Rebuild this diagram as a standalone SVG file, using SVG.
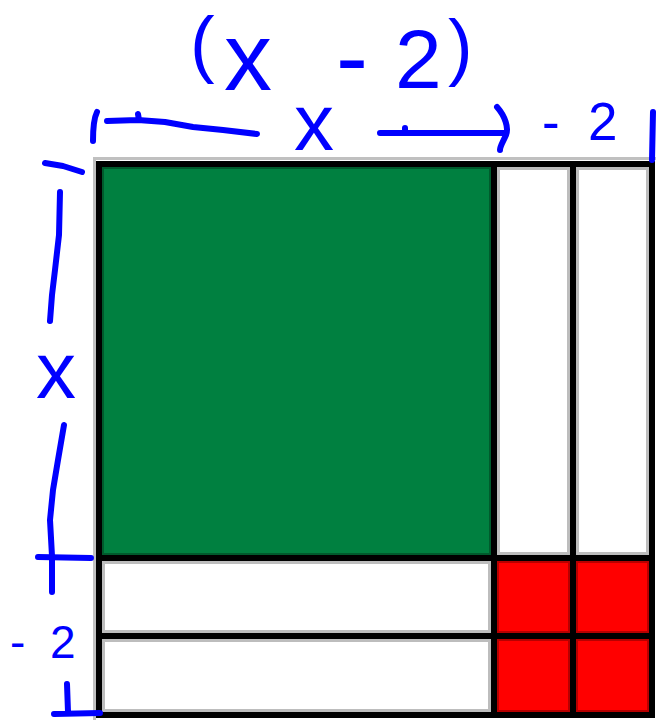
<svg xmlns="http://www.w3.org/2000/svg" width="656" height="720" viewBox="0 0 656 720">
<style>
.grid{stroke:#000;stroke-width:6;fill:none;stroke-linecap:square}
.halo{stroke:#c0c0c0;stroke-width:3;fill:none}
.green{fill:#008040}
.white{fill:#fff}
.red{fill:#ff0000}
.green-edge{fill:none;stroke:#005a2c;stroke-width:2}
.white-edge{fill:none;stroke:#bdbdbd;stroke-width:3}
.red-edge{fill:none;stroke:#b80000;stroke-width:2}
.ink{stroke:#0000ff;stroke-width:6;fill:none;stroke-linecap:round;stroke-linejoin:round}
.hw{fill:#0000ff;font-family:"Liberation Sans",Arial,sans-serif}
</style>
<rect width="656" height="720" fill="#fff"/>
<g id="tiles">
  <g id="x2-tile"><rect class="green" x="99" y="164" width="395" height="394"/><rect class="green-edge" x="103" y="168" width="387" height="386"/></g>
  <g id="x-tile-v1"><rect class="white" x="494" y="164" width="79" height="394"/><rect class="white-edge" x="498.5" y="168.5" width="70" height="385"/></g>
  <g id="x-tile-v2"><rect class="white" x="573" y="164" width="79" height="394"/><rect class="white-edge" x="577.5" y="168.5" width="70" height="385"/></g>
  <g id="x-tile-h1"><rect class="white" x="99" y="558" width="395" height="78"/><rect class="white-edge" x="103.5" y="562.5" width="386" height="69"/></g>
  <g id="x-tile-h2"><rect class="white" x="99" y="636" width="395" height="79"/><rect class="white-edge" x="103.5" y="640.5" width="386" height="70"/></g>
  <g id="unit-1"><rect class="red" x="494" y="558" width="79" height="78"/><rect class="red-edge" x="498" y="562" width="71" height="70"/></g>
  <g id="unit-2"><rect class="red" x="573" y="558" width="79" height="78"/><rect class="red-edge" x="577" y="562" width="71" height="70"/></g>
  <g id="unit-3"><rect class="red" x="494" y="636" width="79" height="79"/><rect class="red-edge" x="498" y="640" width="71" height="71"/></g>
  <g id="unit-4"><rect class="red" x="573" y="636" width="79" height="79"/><rect class="red-edge" x="577" y="640" width="71" height="71"/></g>
</g>
<g id="grid-lines">
  <path class="halo" d="M94.5,720 V158.5 H656"/>
  <path class="grid" d="M99,164 H652 V715 H99 Z M494,164 V715 M573,164 V715 M99,558 H652 M99,636 H652"/>
</g>
<g id="connectors">
  <path class="ink" d="M97,112 Q93,120 93,141"/>
  <path class="ink" d="M107,121 L138,120 L165,122 L193,127 L223,130 L257,134 M138,114 L139,120"/>
  <path class="ink" d="M380,133 L506,133 M405,128 L405,133"/>
  <path class="ink" d="M497,107 C505,116 509,128 506,135 C503,142 500,146 500,150"/>
  <path class="ink" d="M653,112 L652,160"/>
  <path class="ink" d="M45,163 L63,166 L82,172"/>
  <path class="ink" d="M60,192 L59,235 L55,270 L52,295 L50,321"/>
  <path class="ink" d="M64,425 L58,460 L53,490 L50,520 L52,556 L52,592"/>
  <path class="ink" d="M38,557 L91,558"/>
  <path class="ink" d="M67,684 L68,712 M54,714 L100,713"/>
</g>
<g id="labels">
  <text class="hw"><tspan x="190" y="69" font-size="74">(</tspan><tspan x="224" y="90" font-size="96">x</tspan><tspan x="300" y="90" font-size="74"> </tspan><tspan x="336" y="90" font-size="96">-</tspan><tspan x="395" y="88" font-size="84">2</tspan><tspan x="448" y="72" font-size="74">)</tspan></text>
  <text class="hw" x="294" y="150" font-size="80">x</text>
  <text class="hw" x="542 588" y="140" font-size="53">-2</text>
  <text class="hw" x="36" y="398" font-size="80">x</text>
  <text class="hw" x="10 50" y="658" font-size="46">-2</text>
</g>
</svg>
